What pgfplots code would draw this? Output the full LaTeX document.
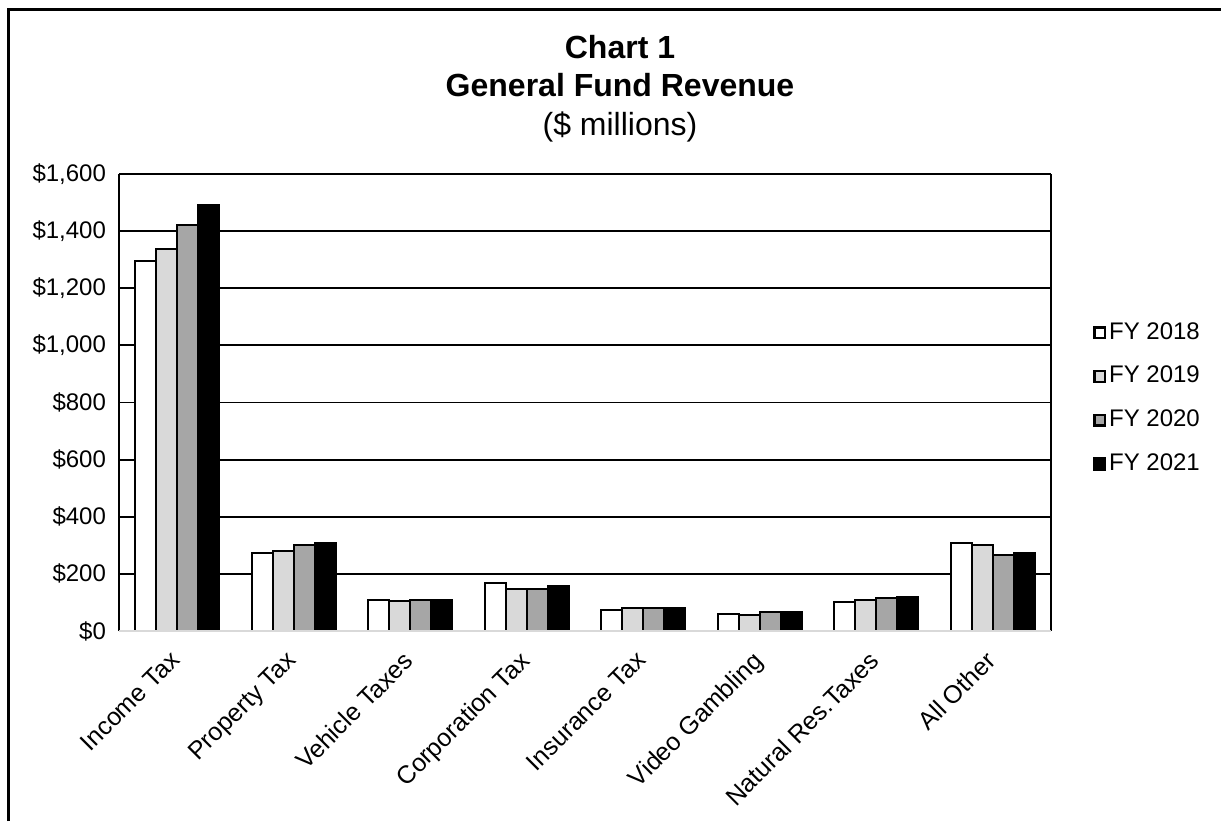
\documentclass[border=0pt]{standalone}
\usepackage{fontspec}
\setmainfont{Liberation Sans}
\usepackage{pgfplots}
\pgfplotsset{compat=1.18}
\definecolor{lg}{HTML}{D9D9D9}
\definecolor{mg}{HTML}{A6A6A6}
\begin{document}
\begin{tikzpicture}
\useasboundingbox (0,0) rectangle (610.5pt,410.5pt);
\draw[line width=1.5pt] (4.25pt,0) -- (4.25pt,405.5pt) -- (612pt,405.5pt);
\node[font=\fontsize{16}{19}\selectfont\bfseries] at (310pt,387pt) {Chart 1};
\node[font=\fontsize{16}{19}\selectfont\bfseries] at (310pt,368pt) {General Fund Revenue};
\node[font=\fontsize{16}{19}\selectfont] at (310pt,347pt) {(\$ millions)};
\begin{axis}[
  at={(59.5pt,95pt)}, anchor=south west,
  scale only axis, width=466pt, height=228.5pt,
  ybar=0pt, bar width=10.5pt,
  xmin=-0.5, xmax=7.5, ymin=0, ymax=1600,
  xtick={0,...,7},
  xticklabels={Income Tax,Property Tax,Vehicle Taxes,Corporation Tax,Insurance Tax,Video Gambling,Natural Res.Taxes,All Other},
  xticklabel style={rotate=45, anchor=north east, font=\fontsize{12.5}{15}\selectfont, inner sep=1pt, xshift=-8.5pt, yshift=-2.5pt},
  ytick={200,400,...,1600},
  yticklabels={{\$200},{\$400},{\$600},{\$800},{\$1,000},{\$1,200},{\$1,400},{\$1,600}},
  extra y ticks={0}, extra y tick labels={{\$0}}, extra y tick style={grid=none},
  yticklabel style={font=\fontsize{12}{14}\selectfont, xshift=-3pt},
  major tick length=0pt,
  ymajorgrids, grid style={black, line width=0.9pt},
  separate axis lines,
  x axis line style={draw=none},
  y axis line style={black, line width=1pt},
  legend style={at={(1.045,0.51)}, anchor=west, draw=none, fill=none,
    font=\fontsize{12}{14}\selectfont, row sep=8pt, inner sep=0pt,
    nodes={inner xsep=1.5pt}},
  legend cell align=left,
  legend image code/.code={\draw[#1, line width=1.2pt] (0pt,-2.9pt) rectangle (5.2pt,2.5pt);},
  every axis plot/.append style={draw=black, line width=1pt},
]
\addplot[fill=white] coordinates {(0,1296) (1,274) (2,110) (3,169) (4,74) (5,60) (6,102) (7,309)};
\addplot[fill=lg] coordinates {(0,1338) (1,279) (2,104) (3,146) (4,79) (5,57) (6,108) (7,302)};
\addplot[fill=mg] coordinates {(0,1420) (1,300) (2,108) (3,148) (4,79) (5,65) (6,115) (7,265)};
\addplot[fill=black] coordinates {(0,1491) (1,307) (2,110) (3,157) (4,79) (5,67) (6,118) (7,274)};
\legend{FY 2018,FY 2019,FY 2020,FY 2021}
\draw[lg, line width=1pt] (axis cs:-0.5,0) -- (axis cs:7.5,0);
\end{axis}
\end{tikzpicture}
\end{document}
